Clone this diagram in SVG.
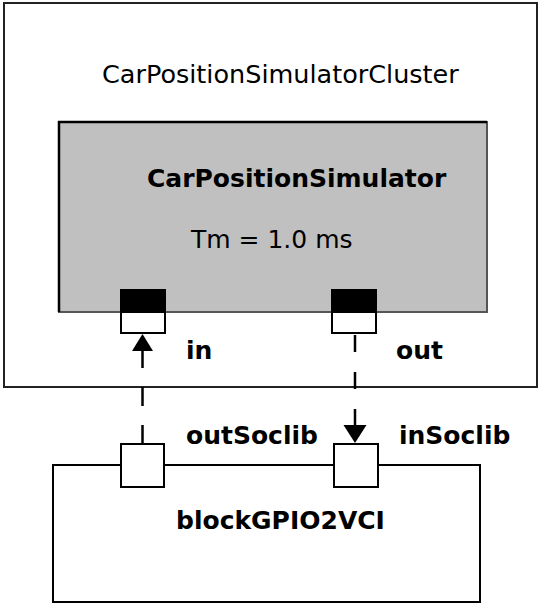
<svg xmlns="http://www.w3.org/2000/svg" width="540" height="605" viewBox="0 0 540 605">
<defs>
<style>
text{font-family:"DejaVu Sans","Liberation Sans",sans-serif;font-size:25px;fill:#000}
.b{font-weight:bold}
.port{fill:#fff;stroke:#000;stroke-width:2}
.dash{fill:none;stroke:#000;stroke-width:2.5;stroke-dasharray:19 19}
</style>
<marker id="ah" viewBox="0 0 10 10" refX="10" refY="5" markerWidth="10" markerHeight="10" markerUnits="userSpaceOnUse" orient="auto">
<path d="M0,0 L10,5 L0,10 z" fill="#000"/>
</marker>
</defs>
<rect width="540" height="605" fill="#fff"/>
<g id="cluster">
<rect x="4" y="3" width="533" height="384" fill="#fff" stroke="#222" stroke-width="2"/>
<text x="102" y="83" style="font-size:25.5px">CarPositionSimulatorCluster</text>
</g>
<g id="simulator">
<rect x="59" y="122" width="428" height="190" fill="#c0c0c0" stroke="#555" stroke-width="2"/>
<path d="M59,312 V122 H487" fill="none" stroke="#000" stroke-width="2.5"/>
<text class="b" x="147" y="187">CarPositionSimulator</text>
<text x="191" y="248">Tm = 1.0 ms</text>
</g>
<g id="port-in">
<rect x="121" y="290" width="44" height="22" fill="#000" stroke="#000" stroke-width="2"/>
<rect class="port" x="121" y="312" width="44" height="21"/>
<text class="b" x="186" y="359">in</text>
</g>
<g id="port-out">
<rect x="332" y="290" width="44" height="22" fill="#000" stroke="#000" stroke-width="2"/>
<rect class="port" x="332" y="312" width="44" height="21"/>
<text class="b" x="396" y="359">out</text>
</g>
<g id="blockGPIO2VCI">
<rect x="53" y="465" width="427" height="137" fill="#fff" stroke="#000" stroke-width="2"/>
<text class="b" x="176" y="529">blockGPIO2VCI</text>
</g>
<g id="port-outSoclib">
<rect class="port" x="121" y="444" width="43" height="43"/>
<text class="b" x="186" y="444">outSoclib</text>
</g>
<g id="port-inSoclib">
<rect class="port" x="334" y="444" width="44" height="43"/>
<text class="b" x="399" y="444">inSoclib</text>
</g>
<g id="connectors">
<line class="dash" x1="142.5" y1="444" x2="142.5" y2="351"/>
<path d="M132,351 L142.5,334 L153,351 z" fill="#000"/>
<line class="dash" x1="355" y1="335" x2="355" y2="425" style="stroke-dasharray:17 20"/>
<path d="M343.5,425 L355,443 L366.5,425 z" fill="#000"/>
</g>
</svg>
